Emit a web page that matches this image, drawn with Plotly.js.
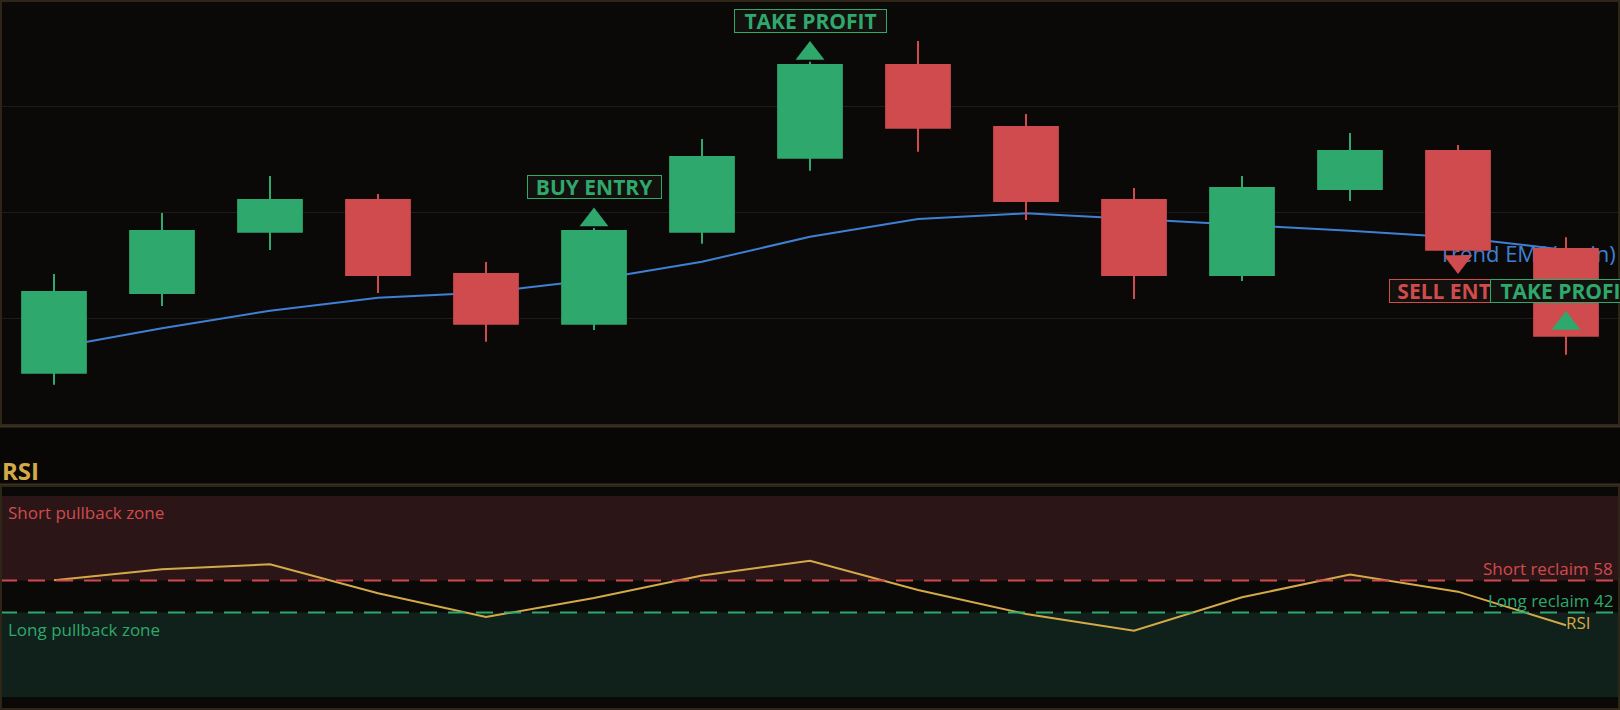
<!DOCTYPE html>
<html>
<head>
<meta charset="utf-8">
<script src="https://cdn.plot.ly/plotly-3.0.1.min.js"></script>
<style>
  html, body { margin: 0; padding: 0; background: #0a0908; }
  #chart { width: 1620px; height: 710px; }
</style>
</head>
<body>
<div id="chart"></div>
<script>
// ---------------- DATA ----------------
const barIndex = [0, 1, 2, 3, 4, 5, 6, 7, 8, 9, 10, 11, 12, 13, 14];
const openPrice  = [102.46, 106.21, 109.10, 110.59, 107.11, 104.77, 109.10, 112.58, 116.94, 114.02, 110.59, 107.06, 111.11, 112.89, 108.28];
const highPrice  = [107.11, 109.98, 111.72, 110.87, 107.67, 109.27, 113.46, 117.10, 118.07, 114.64, 111.15, 111.72, 113.74, 113.18, 108.83];
const lowPrice   = [101.90, 105.60, 108.24, 106.21, 103.92, 104.47, 108.53, 111.97, 112.86, 109.65, 105.93, 106.78, 110.54, 108.14, 103.31];
const closePrice = [106.26, 109.13, 110.59, 107.06, 104.77, 109.13, 112.61, 116.94, 113.99, 110.54, 107.06, 111.15, 112.89, 108.25, 104.20];
const trendEma   = [103.64, 104.55, 105.38, 105.99, 106.24, 106.84, 107.68, 108.86, 109.69, 109.96, 109.69, 109.42, 109.14, 108.82, 108.24];
const rsiValues  = [58.1, 63.5, 66.0, 51.6, 39.8, 49.2, 60.4, 67.8, 53.2, 41.3, 33.0, 49.6, 61.0, 52.4, 35.7];

const signalIndex = [5, 7, 13, 14];
const signalSide  = ['up', 'up', 'down', 'up'];
const signalText  = ['BUY ENTRY', 'TAKE PROFIT', 'SELL ENTRY', 'TAKE PROFIT'];
const signalMarkerPrice = [109.65, 117.48, 107.70, 104.78];
const signalLabelPrice  = [111.18, 119.00, 106.29, 106.29];

const rsiShortReclaim = 58;
const rsiLongReclaim = 42;
const rsiZoneTop = 100;
const rsiZoneBottom = 0;
const emaLabel = 'Trend EMA(main)';

// ---------------- STYLE ----------------
const GREEN = '#2ea86c';
const RED = '#d04b4d';
const BLUE = '#3f80d4';
const GOLD = '#d4aa48';
const BG = '#0a0908';
const BORDER = '#2e2718';
const FONT = 'Open Sans, Noto Sans, sans-serif';

const W = 1620, H = 710;
const topDomain = [1 - 425 / H, 1];
const rsiDomain = [1 / H, 224 / H];
const priceRange = [100, 120];
const barRange = [-0.5, 14.5];

const traces = [];

// EMA line (base subplot, under candles)
traces.push({
  type: 'scatter', mode: 'lines', x: barIndex, y: trendEma,
  line: { color: BLUE, width: 2 }, xaxis: 'x', yaxis: 'y', hoverinfo: 'skip', showlegend: false
});
// EMA label (base subplot, under candles)
traces.push({
  type: 'scatter', mode: 'text', x: [barIndex[barIndex.length - 1] + 0.46], y: [trendEma[trendEma.length - 1] - 0.30],
  text: [emaLabel], textposition: 'middle left',
  textfont: { family: FONT, size: 22, color: BLUE },
  xaxis: 'x', yaxis: 'y', hoverinfo: 'skip', showlegend: false, cliponaxis: false
});
// Candles (overlay subplot, drawn above EMA)
traces.push({
  type: 'candlestick', x: barIndex, open: openPrice, high: highPrice, low: lowPrice, close: closePrice,
  increasing: { line: { color: GREEN, width: 2 }, fillcolor: GREEN },
  decreasing: { line: { color: RED, width: 2 }, fillcolor: RED },
  whiskerwidth: 0, xaxis: 'x3', yaxis: 'y3', hoverinfo: 'skip', showlegend: false
});
// Signal triangles
const upX = [], upY = [], dnX = [], dnY = [];
signalIndex.forEach((idx, k) => {
  if (signalSide[k] === 'up') { upX.push(idx); upY.push(signalMarkerPrice[k]); }
  else { dnX.push(idx); dnY.push(signalMarkerPrice[k]); }
});
traces.push({
  type: 'scatter', mode: 'markers', x: upX, y: upY,
  marker: { symbol: 'triangle-up', size: 25, color: GREEN, line: { width: 0 } },
  xaxis: 'x3', yaxis: 'y3', hoverinfo: 'skip', showlegend: false, cliponaxis: false
});
traces.push({
  type: 'scatter', mode: 'markers', x: dnX, y: dnY,
  marker: { symbol: 'triangle-down', size: 25, color: RED, line: { width: 0 } },
  xaxis: 'x3', yaxis: 'y3', hoverinfo: 'skip', showlegend: false, cliponaxis: false
});
// RSI
traces.push({
  type: 'scatter', mode: 'lines+text', x: barIndex, y: rsiValues,
  text: rsiValues.map((v, i) => i === rsiValues.length - 1 ? 'RSI' : ''),
  textposition: 'middle right',
  textfont: { family: FONT, size: 17, color: GOLD },
  line: { color: GOLD, width: 2 }, xaxis: 'x2', yaxis: 'y2',
  hoverinfo: 'skip', showlegend: false, cliponaxis: false
});

// ---------------- SHAPES ----------------
const shapes = [
  { type: 'rect', xref: 'paper', yref: 'y2', x0: 0, x1: 1, y0: rsiShortReclaim, y1: rsiZoneTop,
    fillcolor: '#2c1517', line: { width: 0 }, layer: 'below' },
  { type: 'rect', xref: 'paper', yref: 'y2', x0: 0, x1: 1, y0: rsiZoneBottom, y1: rsiLongReclaim,
    fillcolor: '#10201a', line: { width: 0 }, layer: 'below' },
  { type: 'line', xref: 'paper', yref: 'y2', x0: 0, x1: 1, y0: rsiShortReclaim, y1: rsiShortReclaim,
    line: { color: RED, width: 2, dash: '17px,11px' } },
  { type: 'line', xref: 'paper', yref: 'y2', x0: 0, x1: 1, y0: rsiLongReclaim, y1: rsiLongReclaim,
    line: { color: GREEN, width: 2, dash: '17px,11px' } },
  { type: 'rect', xref: 'paper', yref: 'paper', x0: 0.0006, x1: 0.9994, y0: 1 - 425 / H, y1: 1 - 1 / H,
    fillcolor: 'rgba(0,0,0,0)', line: { color: BORDER, width: 2 } },
  { type: 'rect', xref: 'paper', yref: 'paper', x0: -0.01, x1: 1.01, y0: 1 - 484.5 / H, y1: 1 - 426.5 / H,
    fillcolor: '#080706', line: { color: '#3a3122', width: 2 } },
  { type: 'rect', xref: 'paper', yref: 'paper', x0: 0.0006, x1: 0.9994, y0: 1 / H, y1: 1 - 486 / H,
    fillcolor: 'rgba(0,0,0,0)', line: { color: BORDER, width: 2 } }
];

// ---------------- ANNOTATIONS ----------------
const annotations = [];
signalIndex.forEach((idx, k) => {
  const col = signalSide[k] === 'down' ? RED : GREEN;
  annotations.push({
    xref: 'x', yref: 'y', x: idx, y: signalLabelPrice[k], text: '<b>' + signalText[k] + '</b>',
    showarrow: false, xanchor: 'center', yanchor: 'middle',
    font: { family: FONT, size: 21, color: col },
    bgcolor: '#13110d', bordercolor: col, borderwidth: 1, borderpad: 0,
    width: signalText[k].length > 10 ? 151 : (signalSide[k] === 'down' ? 136 : 133), height: 22
  });
});
annotations.push(
  { xref: 'paper', yref: 'paper', x: 0, y: 1 - 470.5 / H, xanchor: 'left', yanchor: 'middle',
    text: '<b>RSI</b>', showarrow: false, font: { family: FONT, size: 24, color: GOLD } },
  { xref: 'paper', yref: 'y2', x: 6 / W, y: rsiZoneTop, xanchor: 'left', yanchor: 'top', yshift: -3,
    text: 'Short pullback zone', showarrow: false, font: { family: FONT, size: 17, color: RED } },
  { xref: 'paper', yref: 'y2', x: 6 / W, y: rsiLongReclaim, xanchor: 'left', yanchor: 'top', yshift: -3,
    text: 'Long pullback zone', showarrow: false, font: { family: FONT, size: 17, color: GREEN } },
  { xref: 'paper', yref: 'y2', x: 1615 / W, y: rsiShortReclaim, xanchor: 'right', yanchor: 'bottom', yshift: -2,
    text: 'Short reclaim 58', showarrow: false, font: { family: FONT, size: 17, color: RED } },
  { xref: 'paper', yref: 'y2', x: 1615 / W, y: rsiLongReclaim, xanchor: 'right', yanchor: 'bottom', yshift: -1,
    text: 'Long reclaim 42', showarrow: false, font: { family: FONT, size: 17, color: GREEN } }
);

const hiddenAxis = { showgrid: false, zeroline: false, showticklabels: false, ticks: '', showline: false };

const layout = {
  width: W, height: H,
  margin: { l: 0, r: 0, t: 0, b: 0, pad: 0 },
  paper_bgcolor: BG, plot_bgcolor: BG,
  showlegend: false, hovermode: false, dragmode: false,
  boxgap: 0.41, boxgroupgap: 0,
  xaxis: Object.assign({ domain: [0, 1], anchor: 'y', range: barRange, rangeslider: { visible: false } }, hiddenAxis),
  yaxis: Object.assign({}, hiddenAxis, { domain: topDomain, anchor: 'x', range: priceRange, tickvals: [105, 110, 115],
    showgrid: true, gridcolor: '#1e1c19', gridwidth: 1 }),
  xaxis3: Object.assign({ overlaying: 'x', anchor: 'y3', range: barRange, rangeslider: { visible: false } }, hiddenAxis),
  yaxis3: Object.assign({ overlaying: 'y', anchor: 'x3', range: priceRange }, hiddenAxis),
  xaxis2: Object.assign({ domain: [0, 1], anchor: 'y2', range: barRange }, hiddenAxis),
  yaxis2: Object.assign({ domain: rsiDomain, anchor: 'x2', range: [-6, 105] }, hiddenAxis),
  shapes: shapes,
  annotations: annotations
};

Plotly.newPlot('chart', traces, layout, { staticPlot: true, displayModeBar: false });
</script>
</body>
</html>
